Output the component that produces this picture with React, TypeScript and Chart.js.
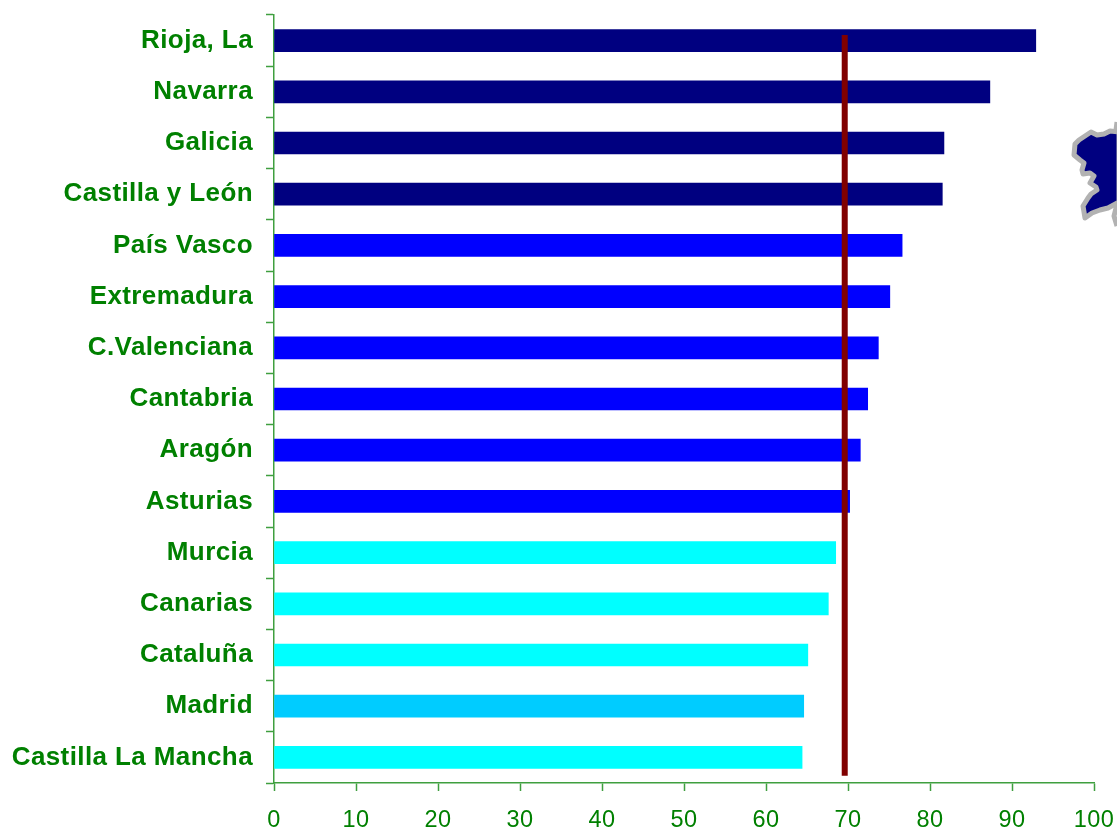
import React, { useEffect, useRef } from "react";
import { Chart, registerables, Plugin } from "chart.js";

Chart.register(...registerables);

const regions = ["Rioja, La", "Navarra", "Galicia", "Castilla y León", "País Vasco", "Extremadura", "C.Valenciana", "Cantabria", "Aragón", "Asturias", "Murcia", "Canarias", "Cataluña", "Madrid", "Castilla La Mancha"];
const values = [92.9, 87.3, 81.7, 81.5, 76.6, 75.1, 73.7, 72.4, 71.5, 70.2, 68.5, 67.6, 65.1, 64.6, 64.4];
const barColors = ["#000080", "#000080", "#000080", "#000080", "#0000ff", "#0000ff", "#0000ff", "#0000ff", "#0000ff", "#0000ff", "#00ffff", "#00ffff", "#00ffff", "#00ccff", "#00ffff"];
const averageValue = 69.6;
const averageSpan = [-0.11, 14.36];
const xTicks = [0, 10, 20, 30, 40, 50, 60, 70, 80, 90, 100];

const GREEN = "#008000";
const AXIS = "#3f9f3f";

// Decorative map fragment at the right edge (Galicia), not a data mark.
const mapOutline: [number, number][] = [
  [1119, 132], [1110, 131], [1104, 134], [1097, 135], [1091, 132], [1085, 136], [1079, 140], [1075, 144], [1074, 155], [1080, 160], [1084, 163], [1082, 170], [1083, 174], [1090, 173], [1094, 176],
  [1090, 183], [1096, 187], [1097, 190], [1091, 194], [1088, 198], [1083, 206], [1085, 218], [1092, 213], [1100, 210], [1108, 208], [1119, 202],
];
const mapExtras: [number, number][][] = [
  [[1117, 122], [1116, 130]],
  [[1117, 204], [1114, 216], [1117, 226]],
];
const mapPlugin: Plugin = {
  id: "mapFragment",
  beforeDraw(chart) {
    (chart.ctx as any).letterSpacing = "0.4px";
  },
  afterDraw(chart) {
    const { ctx } = chart;
    ctx.save();
    ctx.beginPath();
    mapOutline.forEach(([x, y], i) => (i ? ctx.lineTo(x, y) : ctx.moveTo(x, y)));
    ctx.closePath();
    ctx.fillStyle = "#000080";
    ctx.strokeStyle = "#b2b2b2";
    ctx.lineWidth = 5;
    ctx.lineJoin = "round";
    ctx.fill();
    ctx.stroke();
    mapExtras.forEach((seg) => {
      ctx.beginPath();
      seg.forEach(([x, y], i) => (i ? ctx.lineTo(x, y) : ctx.moveTo(x, y)));
      ctx.stroke();
    });
    ctx.restore();
  },
};

const noPadding = (s: any) => {
  s.paddingTop = 0;
  s.paddingBottom = 0;
  s.paddingLeft = 0;
  s.paddingRight = 0;
};

export default function App() {
  const ref = useRef<HTMLCanvasElement>(null);
  useEffect(() => {
    document.body.style.margin = "0";
    const chart = new Chart(ref.current!, {
      type: "bar",
      data: {
        labels: regions,
        datasets: [
          { type: "bar", data: values, backgroundColor: barColors, barThickness: 22, order: 2 } as any,
          {
            type: "scatter",
            parsing: false,
            data: averageSpan.map((y) => ({ x: averageValue, y })),
            showLine: true,
            borderColor: "#800000",
            borderWidth: 6,
            pointRadius: 0,
            order: 1,
          } as any,
        ],
      },
      plugins: [mapPlugin],
      options: {
        indexAxis: "y",
        responsive: false,
        animation: false,
        layout: { padding: { top: 15, right: 23, left: 0, bottom: 0 } },
        plugins: { legend: { display: false }, tooltip: { enabled: false } },
        scales: {
          x: {
            type: "linear",
            min: 0,
            max: 100,
            afterBuildTicks: (s: any) => { s.ticks = xTicks.map((value) => ({ value })); },
            afterFit: (s: any) => { s.height = 45; noPadding(s); },
            grid: { drawOnChartArea: false, color: AXIS, tickLength: 8, tickWidth: 1.5 },
            border: { color: AXIS, width: 1.5 },
            ticks: { color: GREEN, font: { family: "Liberation Sans", size: 23.5 }, padding: 15, maxRotation: 0 },
          },
          y: {
            type: "category",
            offset: true,
            afterFit: (s: any) => { s.width = 274; noPadding(s); },
            grid: { drawOnChartArea: false, offset: true, color: AXIS, tickLength: 8, tickWidth: 1.5 },
            border: { color: AXIS, width: 1.5 },
            ticks: { color: GREEN, font: { family: "Liberation Sans", size: 26, weight: "bold" }, padding: 13, autoSkip: false },
          },
        },
      } as any,
    });
    return () => chart.destroy();
  }, []);
  return <canvas ref={ref} width={1117} height={828} style={{ display: "block" }} />;
}
